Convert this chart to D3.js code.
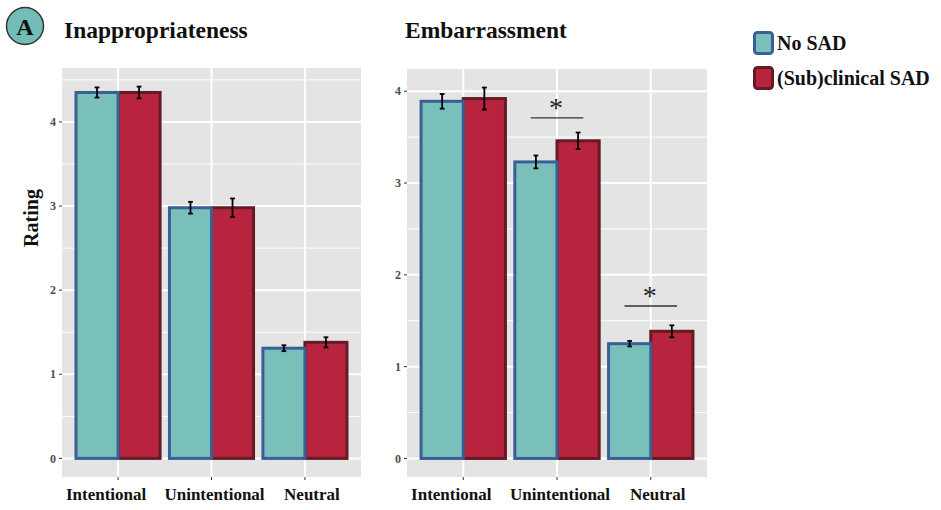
<!DOCTYPE html>
<html>
<head>
<meta charset="utf-8">
<script src="https://cdn.jsdelivr.net/npm/d3@7"></script>
<style>
  body { margin: 0; background: #fff; }
  svg { display: block; font-family: "Liberation Serif", "DejaVu Serif", serif; }
</style>
</head>
<body>
<svg id="chart" width="941" height="510"></svg>
<script>
// data
const categories = ["Intentional", "Unintentional", "Neutral"];
const groups = ["No SAD", "(Sub)clinical SAD"];

const inapNoSAD = [4.35, 2.98, 1.31];
const inapNoSADse = [0.06, 0.07, 0.035];
const inapSAD = [4.35, 2.98, 1.38];
const inapSADse = [0.07, 0.11, 0.06];

const embNoSAD = [3.89, 3.23, 1.25];
const embNoSADse = [0.08, 0.07, 0.03];
const embSAD = [3.92, 3.46, 1.385];
const embSADse = [0.12, 0.09, 0.065];

const embSignif = [
  { cat: "Unintentional", y: 3.71 },
  { cat: "Neutral", y: 1.66 }
];

const yTicks = [0, 1, 2, 3, 4];
const yMinor = [0.5, 1.5, 2.5, 3.5, 4.5];

// layout: x labels in the original sit slightly off their ticks
const labelShift = [-12, 3, 7];

const fills = ["#79c0bb", "#b8233e"];
const strokes = ["#3a5f96", "#651b25"];

const svg = d3.select("#chart");

function rows(noSad, noSadSe, sad, sadSe) {
  const out = [];
  categories.forEach((c, i) => {
    out.push({ cat: c, g: 0, v: noSad[i], se: noSadSe[i] });
    out.push({ cat: c, g: 1, v: sad[i], se: sadSe[i] });
  });
  return out;
}

function drawPanel(opt) {
  const { x0, x1, y0, y1, data, title, titleX, signif } = opt;
  const g = svg.append("g");

  const maxV = d3.max(data, d => d.v + d.se);
  const ex = maxV * 0.05;
  const y = d3.scaleLinear().domain([-ex, maxV + ex]).range([y1, y0]);
  // discrete axis, 0.6 expansion each side
  const xc = d3.scaleLinear().domain([0.4, categories.length + 0.6]).range([x0, x1]);
  const bw = xc(1.9) - xc(1.0); // 0.9 bar width
  const cx = c => xc(categories.indexOf(c) + 1);

  g.append("rect").attr("x", x0).attr("y", y0)
    .attr("width", x1 - x0).attr("height", y1 - y0).attr("fill", "#e4e4e4");

  g.selectAll(".minor").data(yMinor.filter(v => y(v) > y0)).enter().append("line")
    .attr("x1", x0).attr("x2", x1).attr("y1", d => y(d)).attr("y2", d => y(d))
    .attr("stroke", "#fff").attr("stroke-width", 1);
  g.selectAll(".major").data(yTicks).enter().append("line")
    .attr("x1", x0).attr("x2", x1).attr("y1", d => y(d)).attr("y2", d => y(d))
    .attr("stroke", "#fff").attr("stroke-width", 2);
  g.selectAll(".vmajor").data(categories).enter().append("line")
    .attr("x1", d => cx(d)).attr("x2", d => cx(d)).attr("y1", y0).attr("y2", y1)
    .attr("stroke", "#fff").attr("stroke-width", 2);

  // y axis ticks
  g.selectAll(".yt").data(yTicks).enter().append("line")
    .attr("x1", x0 - 3).attr("x2", x0).attr("y1", d => y(d)).attr("y2", d => y(d))
    .attr("stroke", "#333").attr("stroke-width", 1);
  g.selectAll(".ytl").data(yTicks).enter().append("text")
    .attr("x", x0 - 6).attr("y", d => y(d)).attr("dy", "0.35em")
    .attr("text-anchor", "end").attr("font-size", 12).attr("font-weight", "bold")
    .attr("fill", "#4d4d4d").text(d => d);

  // x axis ticks
  g.selectAll(".xt").data(categories).enter().append("line")
    .attr("x1", d => cx(d)).attr("x2", d => cx(d)).attr("y1", y1).attr("y2", y1 + 3)
    .attr("stroke", "#333").attr("stroke-width", 1);
  g.selectAll(".xtl").data(categories).enter().append("text")
    .attr("x", (d, i) => cx(d) + labelShift[i]).attr("y", y1 + 23)
    .attr("text-anchor", "middle").attr("font-size", 17).attr("font-weight", "bold")
    .attr("fill", "#111").text(d => d);

  // bars: SAD first so the blue border sits on top
  const order = data.slice().sort((a, b) => b.g - a.g);
  const bx = d => cx(d.cat) - bw / 2 + d.g * bw / 2;
  g.selectAll(".bar").data(order).enter().append("rect")
    .attr("x", bx).attr("y", d => y(d.v))
    .attr("width", bw / 2).attr("height", d => y(0) - y(d.v))
    .attr("fill", d => fills[d.g]).attr("stroke", d => strokes[d.g])
    .attr("stroke-width", 3);

  // error bars
  const cap = 2.4;
  const eb = g.selectAll(".err").data(data).enter().append("g")
    .attr("stroke", "#000").attr("stroke-width", 1.8);
  const ebx = d => bx(d) + bw / 4;
  eb.append("line").attr("x1", ebx).attr("x2", ebx)
    .attr("y1", d => y(d.v - d.se)).attr("y2", d => y(d.v + d.se));
  eb.append("line").attr("x1", d => ebx(d) - cap).attr("x2", d => ebx(d) + cap)
    .attr("y1", d => y(d.v - d.se)).attr("y2", d => y(d.v - d.se));
  eb.append("line").attr("x1", d => ebx(d) - cap).attr("x2", d => ebx(d) + cap)
    .attr("y1", d => y(d.v + d.se)).attr("y2", d => y(d.v + d.se));

  // significance
  (signif || []).forEach(s => {
    const c = cx(s.cat);
    const half = (xc(1.28) - xc(1));
    g.append("line").attr("x1", c - half).attr("x2", c + half)
      .attr("y1", y(s.y)).attr("y2", y(s.y))
      .attr("stroke", "#333").attr("stroke-width", 1.4);
    g.append("text").attr("x", c - 1).attr("y", y(s.y) - 1)
      .attr("text-anchor", "middle").attr("font-size", 28).attr("fill", "#222")
      .text("*");
  });

  g.append("text").attr("x", titleX).attr("y", 38)
    .attr("font-size", 23.5).attr("font-weight", "bold").attr("fill", "#111")
    .text(title);
}

drawPanel({
  x0: 62, x1: 361, y0: 68, y1: 477,
  data: rows(inapNoSAD, inapNoSADse, inapSAD, inapSADse),
  title: "Inappropriateness", titleX: 64
});
drawPanel({
  x0: 407, x1: 707, y0: 69, y1: 477,
  data: rows(embNoSAD, embNoSADse, embSAD, embSADse),
  title: "Embarrassment", titleX: 405,
  signif: embSignif
});

// y label
svg.append("text").attr("transform", "translate(38,218) rotate(-90)")
  .attr("text-anchor", "middle").attr("font-size", 20).attr("font-weight", "bold")
  .attr("fill", "#111").text("Rating");

// panel letter
svg.append("circle").attr("cx", 25).attr("cy", 26).attr("r", 18.5)
  .attr("fill", "#72bdb6").attr("stroke", "#333").attr("stroke-width", 1.5);
svg.append("text").attr("x", 25).attr("y", 34.5).attr("text-anchor", "middle")
  .attr("font-size", 24).attr("font-weight", "bold").attr("fill", "#111").text("A");

// legend
const leg = svg.append("g").attr("transform", "translate(753,31)");
groups.forEach((name, i) => {
  const it = leg.append("g").attr("transform", `translate(0,${i * 35})`);
  it.append("rect").attr("x", 1.5).attr("y", 1.5).attr("width", 18).attr("height", 21)
    .attr("rx", 3).attr("fill", fills[i]).attr("stroke", strokes[i]).attr("stroke-width", 3);
  it.append("text").attr("x", 24).attr("y", 18.5).attr("font-size", 20)
    .attr("font-weight", "bold").attr("fill", "#111").text(name);
});
</script>
</body>
</html>
